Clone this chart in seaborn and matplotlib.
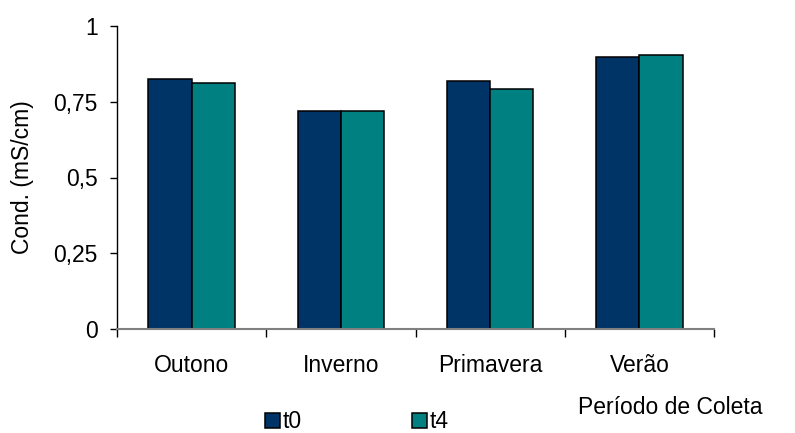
import matplotlib
matplotlib.use("Agg")
import matplotlib.pyplot as plt
import seaborn as sns
import pandas as pd
from matplotlib.ticker import FixedLocator, FixedFormatter

categories = ["Outono", "Inverno", "Primavera", "Verão"]
t0 = [0.825, 0.720, 0.818, 0.899]
t4 = [0.813, 0.720, 0.792, 0.905]
series = ["t0", "t4"]
yticks = [0, 0.25, 0.5, 0.75, 1]
ytick_labels = ["0", "0,25", "0,5", "0,75", "1"]

df = pd.DataFrame({
    "Período": categories * 2,
    "Cond": t0 + t4,
    "Série": ["t0"] * len(categories) + ["t4"] * len(categories),
})

sns.set_style("white")
plt.rcParams["font.family"] = ["Liberation Sans", "DejaVu Sans"]
plt.rcParams["text.color"] = "black"
plt.rcParams["xtick.color"] = "black"
plt.rcParams["ytick.color"] = "black"
plt.rcParams["axes.labelcolor"] = "black"

FS = 16.5

fig = plt.figure(figsize=(7.95, 4.33), dpi=100)
ax = fig.add_axes([117/795, 1 - 329/433, (714 - 117)/795, (329 - 26)/433])

sns.barplot(data=df, x="Período", y="Cond", hue="Série", order=categories,
            hue_order=series, palette=["#003366", "#008080"], width=0.58,
            edgecolor="black", linewidth=1.1, saturation=1, ax=ax, legend=True)

ax.set_xlim(-0.5, 3.5)
ax.set_ylim(0, 1)
ax.yaxis.set_major_locator(FixedLocator(yticks))
ax.yaxis.set_major_formatter(FixedFormatter(ytick_labels))
ax.set_xticks([-0.5, 0.5, 1.5, 2.5, 3.5], minor=False)
ax.set_xticklabels([])
ax.set_xticks(range(len(categories)), minor=True)
ax.set_xticklabels(categories, minor=True)
ax.tick_params(axis="x", which="major", bottom=True, direction="out", length=6, width=1, color="black")
ax.tick_params(axis="x", which="minor", bottom=True, length=0, pad=18, labelsize=FS)
ax.tick_params(axis="y", left=True, direction="out", length=5, width=1, color="black", labelsize=FS, pad=9)
for s in ["top", "right"]:
    ax.spines[s].set_visible(False)
ax.spines["left"].set_color("black")
ax.spines["bottom"].set_color("#808080")
ax.spines["left"].set_linewidth(1)
ax.spines["bottom"].set_linewidth(1.5)

ax.set_xlabel("")
ax.set_ylabel("Cond. (mS/cm)", fontsize=FS, labelpad=14)
fig.text(763/795, 1 - 407/433, "Período de Coleta", fontsize=FS, ha="right", va="center")

handles, labels = ax.get_legend_handles_labels()
ax.legend(handles, labels, loc="center left", bbox_to_anchor=(265/795, 1 - 422/433),
          bbox_transform=fig.transFigure, ncol=2, frameon=False, fontsize=FS,
          borderpad=0, borderaxespad=0,
          handlelength=0.65, handleheight=0.65, handletextpad=0.1, columnspacing=4.85)

fig.savefig("out.png", dpi=100)
